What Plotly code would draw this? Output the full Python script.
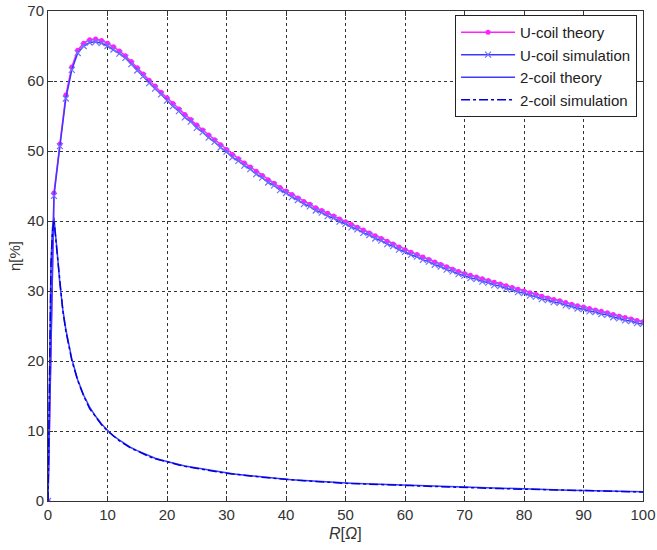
import plotly.graph_objects as go

r_u = list(range(0, 101))
u_theory = [0, 44.0, 51.0, 58.0, 62.0, 64.4, 65.4, 65.9, 66.0, 65.8,
            65.4, 64.9, 64.3, 63.6, 62.8, 61.9, 61.0, 60.1, 59.3, 58.4,
            57.6, 56.8, 56.0, 55.2, 54.5, 53.7, 53.0, 52.3, 51.6, 50.9,
            50.2, 49.5, 48.9, 48.3, 47.7, 47.1, 46.5, 45.9, 45.4, 44.8,
            44.3, 43.8, 43.3, 42.8, 42.4, 41.9, 41.5, 41.1, 40.7, 40.3,
            39.9, 39.5, 39.1, 38.7, 38.3, 37.9, 37.5, 37.1, 36.7, 36.3,
            35.9, 35.55, 35.2, 34.85, 34.5, 34.15, 33.8, 33.45, 33.1, 32.8,
            32.5, 32.25, 32.0, 31.75, 31.5, 31.25, 31.0, 30.75, 30.5, 30.25,
            30.0, 29.75, 29.5, 29.25, 29.0, 28.8, 28.6, 28.35, 28.1, 27.9,
            27.7, 27.5, 27.3, 27.1, 26.9, 26.65, 26.4, 26.2, 26.0, 25.8,
            25.6]
u_sim = [0, 43.6, 50.7, 57.5, 61.6, 64.0, 65.0, 65.5, 65.6, 65.4,
         65.0, 64.5, 63.9, 63.3, 62.4, 61.5, 60.7, 59.7, 58.9, 58.1,
         57.2, 56.4, 55.7, 54.8, 54.2, 53.3, 52.7, 51.9, 51.3, 50.5,
         49.9, 49.1, 48.6, 47.9, 47.4, 46.7, 46.2, 45.5, 45.1, 44.4,
         44.0, 43.4, 43.0, 42.4, 42.1, 41.5, 41.2, 40.7, 40.4, 39.9,
         39.6, 39.1, 38.8, 38.3, 38.0, 37.5, 37.2, 36.7, 36.4, 35.9,
         35.6, 35.15, 34.9, 34.45, 34.2, 33.75, 33.5, 33.05, 32.8, 32.4,
         32.2, 31.85, 31.7, 31.35, 31.2, 30.85, 30.7, 30.35, 30.2, 29.85,
         29.7, 29.35, 29.2, 28.85, 28.7, 28.4, 28.3, 27.95, 27.8, 27.5,
         27.4, 27.1, 27.0, 26.7, 26.6, 26.25, 26.1, 25.8, 25.7, 25.4,
         25.3]

r_2 = [0, 0.25, 0.5, 0.75, 1, 1.5, 2, 2.5, 3, 4, 5, 6, 7, 8, 9,
       10, 11, 12, 13, 14, 15, 16, 17, 18, 19, 20, 21, 22, 23, 24, 25,
       26, 27, 28, 29, 30, 31, 32, 33, 34, 35, 36, 37, 38, 39, 40,
       41, 42, 43, 44, 45, 46, 47, 48, 49, 50, 51, 52, 53, 54, 55,
       56, 57, 58, 59, 60, 61, 62, 63, 64, 65, 66, 67, 68, 69, 70,
       71, 72, 73, 74, 75, 76, 77, 78, 79, 80, 81, 82, 83, 84, 85,
       86, 87, 88, 89, 90, 91, 92, 93, 94, 95, 96, 97, 98, 99, 100]
two_theory = [0, 22.0, 34.0, 39.0, 40.5, 36.0, 31.0, 27.3, 24.5, 20.3, 17.3, 15.1, 13.4, 12.1, 11.0,
              10.1, 9.3, 8.7, 8.1, 7.6, 7.2, 6.8, 6.4, 6.1, 5.85, 5.6, 5.4, 5.2, 5.0, 4.85, 4.7,
              4.55, 4.4, 4.25, 4.1, 4.0, 3.9, 3.8, 3.7, 3.6, 3.5, 3.42, 3.34, 3.26, 3.18, 3.1,
              3.04, 2.98, 2.92, 2.86, 2.8, 2.75, 2.7, 2.65, 2.6, 2.55, 2.52, 2.49, 2.46, 2.43, 2.40,
              2.37, 2.34, 2.31, 2.28, 2.25, 2.22, 2.19, 2.16, 2.13, 2.10, 2.07, 2.04, 2.01, 1.98, 1.95,
              1.92, 1.90, 1.87, 1.85, 1.82, 1.80, 1.77, 1.75, 1.72, 1.70, 1.68, 1.66, 1.64, 1.62, 1.60,
              1.58, 1.56, 1.54, 1.52, 1.50, 1.48, 1.46, 1.44, 1.43, 1.41, 1.39, 1.37, 1.36, 1.34, 1.32]
two_sim = [0, 21.5, 33.6, 38.4, 40.1, 35.7, 30.8, 27.1, 24.3, 20.1, 17.2, 15.0, 13.2, 12.0, 10.9,
           10.0, 9.25, 8.6, 8.05, 7.5, 7.15, 6.7, 6.35, 6.05, 5.8, 5.55, 5.35, 5.15, 4.95, 4.8, 4.65,
           4.5, 4.37, 4.2, 4.08, 3.95, 3.87, 3.76, 3.68, 3.57, 3.48, 3.39, 3.32, 3.23, 3.16, 3.07,
           3.02, 2.95, 2.9, 2.83, 2.78, 2.72, 2.68, 2.62, 2.58, 2.52, 2.50, 2.46, 2.44, 2.40, 2.38,
           2.34, 2.32, 2.28, 2.26, 2.22, 2.20, 2.16, 2.14, 2.10, 2.08, 2.04, 2.02, 1.98, 1.96, 1.92,
           1.90, 1.87, 1.85, 1.82, 1.80, 1.77, 1.75, 1.72, 1.70, 1.67, 1.66, 1.63, 1.62, 1.59, 1.58,
           1.55, 1.54, 1.51, 1.50, 1.47, 1.46, 1.43, 1.42, 1.40, 1.39, 1.36, 1.35, 1.33, 1.32, 1.29]

x_ticks = [0, 10, 20, 30, 40, 50, 60, 70, 80, 90, 100]
y_ticks = [0, 10, 20, 30, 40, 50, 60, 70]
x_title = "<i>R</i>[<i>Ω</i>]"
y_title = "η[%]"

fig = go.Figure()
fig.add_trace(go.Scatter(
    x=r_u, y=u_theory, name="U-coil theory", mode="lines+markers",
    line=dict(color="#ff22ff", width=1.5),
    marker=dict(symbol="circle", size=5, color="#ff22ff")))
fig.add_trace(go.Scatter(
    x=r_u, y=u_sim, name="U-coil simulation", mode="lines+markers",
    line=dict(color="#3a3aff", width=1.5),
    marker=dict(symbol="x-thin", size=6, color="#7070ff",
                line=dict(color="#7070ff", width=1.2))))
fig.add_trace(go.Scatter(
    x=r_2, y=two_theory, name="2-coil theory", mode="lines",
    line=dict(color="#3d3dff", width=1.5)))
fig.add_trace(go.Scatter(
    x=r_2, y=two_sim, name="2-coil simulation", mode="lines",
    line=dict(color="#0000dd", width=1.5, dash="dashdot")))

axis_common = dict(
    showline=True, linecolor="#333333", linewidth=1, mirror="ticks",
    ticks="inside", ticklen=5, tickcolor="#333333",
    showgrid=True, gridcolor="#333333", gridwidth=1, griddash="3px,3px",
    zeroline=False, automargin=False, ticklabeloverflow="allow",
    tickfont=dict(family="Liberation Sans, Arial", size=15, color="#333333"),
)

fig.update_xaxes(range=[0, 100], tickvals=x_ticks, **axis_common)
fig.update_yaxes(range=[0, 70], tickvals=y_ticks, **axis_common)

fig.add_annotation(text=x_title, xref="paper", yref="paper", x=0.5, y=0,
                   xanchor="center", yanchor="top", yshift=-22, showarrow=False,
                   font=dict(family="Liberation Sans, Arial", size=16, color="#333333"))
fig.add_annotation(text=y_title, xref="paper", yref="paper", x=0, y=0.5,
                   xanchor="center", yanchor="middle", xshift=-34, textangle=-90,
                   showarrow=False,
                   font=dict(family="Liberation Sans, Arial", size=15, color="#333333"))

fig.update_layout(
    width=657, height=550,
    margin=dict(l=48, r=14, t=11, b=49),
    plot_bgcolor="white", paper_bgcolor="white",
    showlegend=True,
    legend=dict(x=0.99, y=0.992, xanchor="right", yanchor="top",
                bgcolor="white", bordercolor="#222222", borderwidth=1,
                itemwidth=54,
                font=dict(family="Liberation Sans, Arial", size=15, color="#222222"),
                tracegroupgap=0),
)

# remove the page's default 8px body margin so the figure sits at the window's corner
fig.write_html("out.html", config={"displayModeBar": False},
               post_script="document.body.style.margin='0px';")
